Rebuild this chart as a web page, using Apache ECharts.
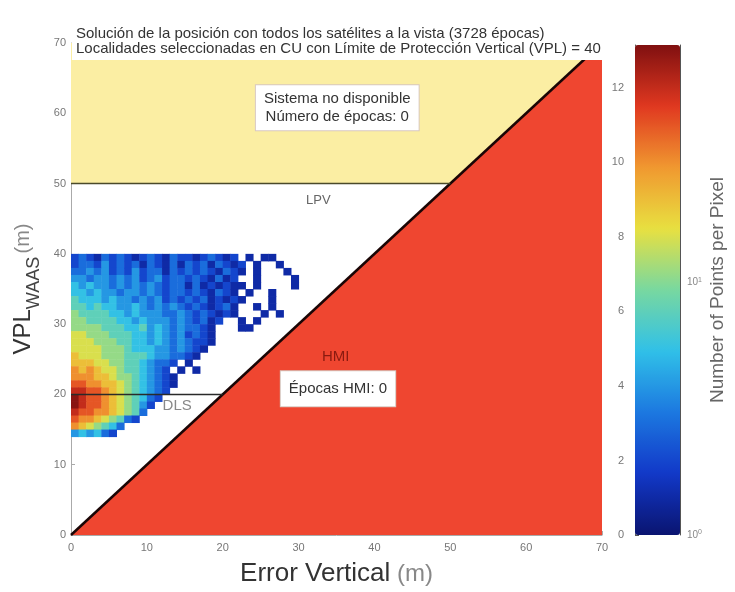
<!DOCTYPE html>
<html>
<head>
<meta charset="utf-8">
<script src="https://cdn.jsdelivr.net/npm/echarts@6/dist/echarts.min.js"></script>
<style>
  html, body { margin: 0; padding: 0; background: #fff; }
  #chart { width: 735px; height: 592px; }
</style>
</head>
<body>
<div id="chart"></div>
<script>
// ejes (m)
const axisMin = 0
const axisMax = 70
const axisStep = 10
// zonas del diagrama de Stanford
const yellowZone = [[0, 50], [50, 50], [70, 70], [0, 70]]
const hmiZone = [[0, 0], [70, 0], [70, 70]]
const diagLine = [[0, 0], [70, 70]]
const lpvLine = [[0, 50], [50, 50]]
const dlsLine = [[0, 20], [20, 20]]
// histograma 2D: celdas de 1 m, primera fila = 39 m, '.' = vacio, 1..d = nivel de color
const heatTopBin = 39
const heatRows = [
  '2321323212321322123212.1.11',
  '23324232313213132313212.1..1',
  '33434232423313232321321.1...1',
  '4434434342342332321312..1....1',
  '54544343434323313121211.1....1',
  '5545443443432332321321.1..1',
  '65554544343423232312121...1',
  '6656554454343432321231..1.1',
  '7666655454443343232121...1.1',
  '77666655454443432312..1.1',
  '7777666556454343321...11',
  '8877766655454342321',
  '8887776655454343221',
  '888877765554434321',
  '98887776665443321',
  '99988776654332.1',
  'a9a9887665432.1.1',
  'aaa99877654321',
  'bbaa9987654321',
  'ccbba98765432',
  'dcbba9876532',
  'dcbba987642',
  'cbbaa98763',
  'baa987632',
  'a987653',
  '454532'
]
// barra de color
const cbarMax = 13.15
const cbarStep = 2
const cbarDecade = 6.77   // posicion de 10^1 en la escala lineal
const jetColors = ['#0a1470', '#1238c8', '#1c78e0', '#30c0e8', '#78d8a0', '#e8e040', '#f09830', '#e03820', '#801010']

// textos
const titleText = 'Solución de la posición con todos los satélites a la vista (3728 épocas)\nLocalidades seleccionadas en CU con Límite de Protección Vertical (VPL) = 40'
const labels = [
  { value: [35.1, 60.8], text: 'Sistema no disponible\nNúmero de épocas: 0', box: true, pad: [5, 8, 4, 8] },
  { value: [32.6, 47.6], text: 'LPV', color: '#666', size: 13 },
  { value: [14.0, 18.4], text: 'DLS', color: '#888', size: 15 },
  { value: [34.9, 25.3], text: 'HMI', color: '#8a1a10', size: 15 },
  { value: [35.2, 20.8], text: 'Épocas HMI: 0', box: true, pad: [9, 8, 8, 8] }
]

const heatData = []
heatRows.forEach((row, r) => {
  for (let c = 0; c < row.length; c++) {
    if (row[c] !== '.') heatData.push([c, heatTopBin - r, parseInt(row[c], 16)])
  }
})

const font = 'Liberation Sans, Arial, sans-serif'

function polygonSeries(points, fill) {
  return {
    type: 'custom',
    xAxisIndex: 0,
    yAxisIndex: 0,
    silent: true,
    data: [[0, 0]],
    renderItem(params, api) {
      return {
        type: 'polygon',
        shape: { points: points.map(p => api.coord(p)) },
        style: { fill: fill }
      }
    }
  }
}

function lineSeries(data, color, width) {
  return {
    type: 'line',
    xAxisIndex: 0,
    yAxisIndex: 0,
    data: data,
    symbol: 'none',
    silent: true,
    lineStyle: { color: color, width: width }
  }
}

const chart = echarts.init(document.getElementById('chart'))
chart.setOption({
  animation: false,
  backgroundColor: '#fff',
  textStyle: { fontFamily: font },
  title: {
    text: titleText,
    left: 72,
    top: 24,
    padding: [2, 4, 4, 4],
    backgroundColor: '#fff',
    textStyle: { fontSize: 15, lineHeight: 15, color: '#333', fontWeight: 'normal', fontFamily: font }
  },
  grid: [
    { left: 71, right: 133, top: 43, bottom: 57 },
    { left: 635, width: 45, top: 45, height: 490 }
  ],
  xAxis: [
    {
      type: 'value', min: axisMin, max: axisMax, interval: axisStep,
      name: '{a|Error Vertical}  {b|(m)}',
      nameLocation: 'middle', nameGap: 26,
      nameTextStyle: {
        rich: {
          a: { fontSize: 26, color: '#333', fontFamily: font },
          b: { fontSize: 24, color: '#888', fontFamily: font }
        }
      },
      axisLine: { lineStyle: { color: '#aaa' } },
      axisTick: { inside: true, length: 4, lineStyle: { color: '#aaa' } },
      axisLabel: { fontSize: 11, color: '#777', margin: 7 },
      splitLine: { show: false }
    },
    { gridIndex: 1, type: 'value', min: 0, max: 1, show: false }
  ],
  yAxis: [
    {
      type: 'value', min: axisMin, max: axisMax, interval: axisStep,
      name: '{a|VPL}{s|WAAS} {b|(m)}',
      nameLocation: 'middle', nameGap: 28, nameRotate: 90,
      nameTextStyle: {
        rich: {
          a: { fontSize: 24, color: '#333', fontFamily: font, verticalAlign: 'middle' },
          s: { fontSize: 18, color: '#444', fontFamily: font, verticalAlign: 'bottom', padding: [0, 0, -7, 0] },
          b: { fontSize: 20, color: '#888', fontFamily: font, verticalAlign: 'middle' }
        }
      },
      axisLine: { show: true, lineStyle: { color: '#aaa' } },
      axisTick: { show: true, inside: true, length: 4, lineStyle: { color: '#aaa' } },
      axisLabel: { fontSize: 11, color: '#777', margin: 5 },
      splitLine: { show: false }
    },
    {
      gridIndex: 1, type: 'value', min: 0, max: cbarMax, interval: cbarStep,
      position: 'left',
      axisLine: { show: true, lineStyle: { color: '#555' } },
      axisTick: { show: true, inside: true, length: 4, lineStyle: { color: '#555' } },
      axisLabel: { fontSize: 11, color: '#777', margin: 11, showMaxLabel: false },
      splitLine: { show: false }
    },
    {
      gridIndex: 1, type: 'log', logBase: 10, min: 1, max: Math.pow(10, cbarMax / cbarDecade),
      position: 'right',
      name: 'Number of Points per Pixel',
      nameLocation: 'middle', nameGap: 28, nameRotate: 90,
      nameTextStyle: { fontSize: 19, color: '#666', fontFamily: font },
      axisLine: { show: true, lineStyle: { color: '#555' } },
      axisTick: { show: false },
      axisLabel: {
        fontSize: 10, color: '#888', margin: 7, showMaxLabel: false,
        formatter: v => (Math.abs(v - 1) < 1e-6 ? '10{s|0}' : Math.abs(v - 10) < 1e-6 ? '10{s|1}' : ''),
        rich: { s: { fontSize: 7, color: '#888', verticalAlign: 'top', padding: [0, 0, 6, 0] } }
      },
      splitLine: { show: false }
    }
  ],
  visualMap: {
    type: 'continuous',
    seriesIndex: 2,
    dimension: 2,
    min: 0,
    max: cbarMax,
    left: 635,
    top: 45,
    padding: 0,
    itemWidth: 45,
    itemHeight: 490,
    calculable: false,
    hoverLink: false,
    text: ['', ''],
    showLabel: false,
    inRange: { color: jetColors }
  },
  series: [
    polygonSeries(yellowZone, '#fbeea3'),
    polygonSeries(hmiZone, '#ef4630'),
    {
      type: 'custom',
      xAxisIndex: 0,
      yAxisIndex: 0,
      data: heatData,
      encode: { x: 0, y: 1 },
      renderItem(params, api) {
        const x = api.value(0)
        const y = api.value(1)
        const a = api.coord([x, y + 1])
        const b = api.coord([x + 1, y])
        return {
          type: 'rect',
          shape: { x: a[0], y: a[1], width: b[0] - a[0] + 0.5, height: b[1] - a[1] + 0.5 },
          style: { fill: api.visual('color') }
        }
      }
    },
    lineSeries(diagLine, '#1a0505', 2.5),
    lineSeries(lpvLine, '#4a4a2a', 1.5),
    lineSeries(dlsLine, '#2a2a2a', 1.5),
    {
      type: 'scatter',
      xAxisIndex: 0,
      yAxisIndex: 0,
      symbolSize: 0,
      silent: true,
      itemStyle: { opacity: 1 },
      data: labels.map(l => ({
        value: l.value,
        label: l.box
          ? {
              show: true, position: 'inside', formatter: l.text,
              fontSize: 15, lineHeight: 18, color: '#333', fontFamily: font,
              backgroundColor: '#fff', borderColor: '#d8c8c0', borderWidth: 1,
              padding: l.pad, opacity: 1
            }
          : {
              show: true, position: 'inside', formatter: l.text,
              fontSize: l.size, color: l.color, fontFamily: font
            }
      }))
    }
  ]
})
</script>
</body>
</html>
